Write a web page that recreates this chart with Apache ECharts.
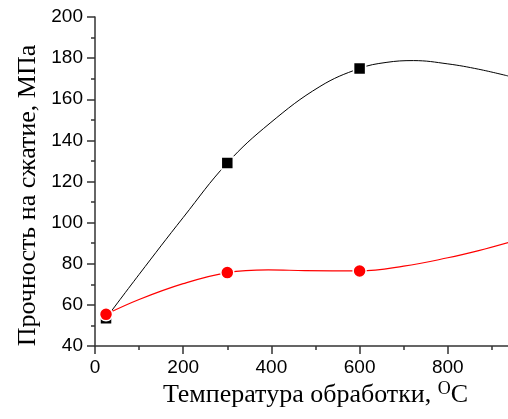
<!DOCTYPE html>
<html><head><meta charset="utf-8">
<script src="https://cdn.jsdelivr.net/npm/echarts@6/dist/echarts.min.js"></script>
<style>html,body{margin:0;padding:0;background:#fff}#c{width:508px;height:419px}</style>
</head><body><div id="c"></div>
<script>
// Measured points
var temps = [25, 300, 600];
var strengthBlack = [53.5, 129, 175];
var strengthRed = [55.4, 75.7, 76.5];
// Fitted curves
var curveBlackX = [25, 100, 200, 300, 397, 510, 600, 660, 722, 800, 870, 937];
var curveBlackY = [53.5, 74.8, 102.5, 129, 148.4, 166.2, 175, 177.9, 178.8, 177.2, 174.6, 171.3];
var curveRedX = [25, 100, 200, 300, 393, 476, 600, 700, 800, 870, 937];
var curveRedY = [55.4, 62.6, 70.3, 75.7, 77, 76.7, 76.5, 78.8, 82.9, 86.4, 90.3];
var xTitle = 'Температура обработки, ';
var yTitle = 'Прочность на сжатие, МПа';

function pairs(xs, ys){ return xs.map(function(x,i){return [x, ys[i]];}); }

var chart = echarts.init(document.getElementById('c'), null, {renderer:'canvas'});
var axisCommon = {
  axisLine:{show:true, lineStyle:{color:'#333', width:1.5}},
  axisTick:{show:true, inside:false, length:8, lineStyle:{color:'#333', width:1.5}},
  minorTick:{show:true, splitNumber:2, length:4, lineStyle:{color:'#333', width:1.5}},
  splitLine:{show:false},
  axisLabel:{color:'#000', fontFamily:'Liberation Sans', fontSize:19, margin:12}
};
chart.setOption({
  animation:false,
  backgroundColor:'#fff',
  grid:{left:95, top:17, width:441, height:329, containLabel:false, outerBoundsMode:'none'},
  xAxis: Object.assign({}, axisCommon, {
    type:'value', min:0, max:1000, interval:200,
    name: '{t|' + xTitle + '}{s|O}{t|C}',
    nameLocation:'middle', nameGap:34, nameMoveOverlap:false,
    nameTextStyle:{rich:{
      t:{fontFamily:'Liberation Serif', fontSize:26, color:'#000', verticalAlign:'bottom'},
      s:{fontFamily:'Liberation Serif', fontSize:18, color:'#000', verticalAlign:'top', padding:[0,0,10,0]}
    }},
    axisLabel:Object.assign({}, axisCommon.axisLabel, {showMaxLabel:false})
  }),
  yAxis: Object.assign({}, axisCommon, {
    type:'value', min:40, max:200, interval:20,
    name: yTitle, nameLocation:'middle', nameGap:54, nameMoveOverlap:false,
    nameTextStyle:{fontFamily:'Liberation Serif', fontSize:26, color:'#000', padding:[0,28,0,0]}
  }),
  series:[
    {type:'line', data:pairs(curveBlackX, curveBlackY), smooth:0.4, showSymbol:false, symbol:'none',
     lineStyle:{color:'#000', width:1}, clip:true, z:2},
    {type:'line', data:pairs(curveRedX, curveRedY), smooth:0.4, showSymbol:false, symbol:'none',
     lineStyle:{color:'#ff0000', width:1.2}, clip:true, z:2},
    {type:'scatter', data:pairs(temps, strengthBlack), symbol:'rect', symbolSize:12,
     itemStyle:{color:'#000', opacity:1, borderColor:'#fff', borderWidth:1.5}, z:3},
    {type:'scatter', data:pairs(temps, strengthRed), symbol:'circle', symbolSize:13,
     itemStyle:{color:'#ff0000', opacity:1, borderColor:'#fff', borderWidth:1.5}, z:4}
  ]
});
</script></body></html>
